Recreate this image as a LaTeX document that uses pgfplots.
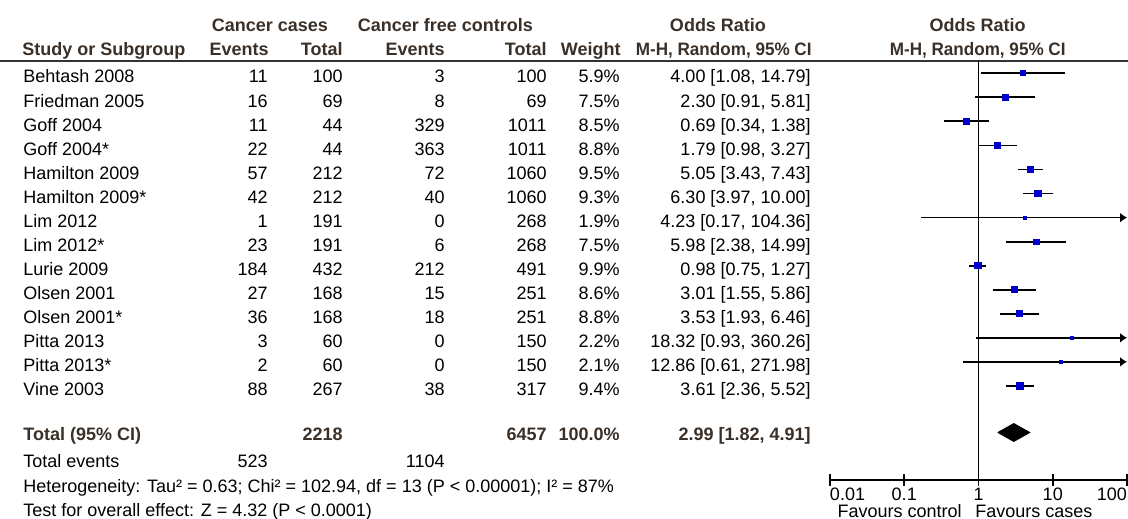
\documentclass[border=0pt]{standalone}
\usepackage{fontspec}
\setmainfont{Liberation Sans}
\usepackage{pgfplots}
\usepackage{pgfplotstable}
\pgfplotsset{compat=1.18}
\usetikzlibrary{arrows.meta}
\definecolor{hdr}{RGB}{58,48,40}
\definecolor{sqblue}{RGB}{0,0,205}

\pgfplotstableread{
or    w    y
4.00  5.9  -73.3
2.30  7.5  -97.35
0.69  8.5  -121.4
1.79  8.8  -145.45
5.05  9.5  -169.5
6.30  9.3  -193.55
4.23  1.9  -217.6
5.98  7.5  -241.65
0.98  9.9  -265.7
3.01  8.6  -289.75
3.53  8.8  -313.8
18.32 2.2  -337.85
12.86 2.1  -361.9
3.61  9.4  -385.95
}\squares

\newcommand{\studyrow}[8]{%
 \pgfmathsetmacro{\yb}{83+24.05*#1}%
 \node[anchor=base west] at (23,\yb) {#2};%
 \node[anchor=base east] at (268,\yb) {#3};%
 \node[anchor=base east] at (343,\yb) {#4};%
 \node[anchor=base east] at (445,\yb) {#5};%
 \node[anchor=base east] at (547,\yb) {#6};%
 \node[anchor=base east] at (620,\yb) {#7};%
 \node[anchor=base east] at (811,\yb) {#8};%
}

\begin{document}
\begin{tikzpicture}[font=\fontsize{9}{11}\selectfont]
\begin{scope}[x=0.5pt,y=-0.5pt,every node/.style={inner sep=0pt}]
\path[use as bounding box] (0,0) rectangle (1128,519);
% header
\begin{scope}[font=\fontsize{9}{11}\selectfont\bfseries, text=hdr]
\node[anchor=base] at (270,31.5) {Cancer cases};
\node[anchor=base] at (445.5,31.5) {Cancer free controls};
\node[anchor=base] at (718,31.5) {Odds Ratio};
\node[anchor=base] at (977.7,31.5) {Odds Ratio};
\node[anchor=base west] at (22,56) {Study or Subgroup};
\node[anchor=base east] at (269,56) {Events};
\node[anchor=base east] at (343,56) {Total};
\node[anchor=base east] at (445,56) {Events};
\node[anchor=base east] at (547,56) {Total};
\node[anchor=base east] at (621,56) {Weight};
\node[anchor=base east] at (812,56) {\scalebox{0.95}[1]{M-H, Random, 95\% CI}};
\node[anchor=base] at (977.7,56) {\scalebox{0.95}[1]{M-H, Random, 95\% CI}};
\end{scope}
\draw[black!80, line width=1pt] (0,61) -- (1128,61);
% rows
\studyrow{0}{Behtash 2008}{11}{100}{3}{100}{5.9\%}{4.00 [1.08, 14.79]}
\studyrow{1}{Friedman 2005}{16}{69}{8}{69}{7.5\%}{2.30 [0.91, 5.81]}
\studyrow{2}{Goff 2004}{11}{44}{329}{1011}{8.5\%}{0.69 [0.34, 1.38]}
\studyrow{3}{Goff 2004*}{22}{44}{363}{1011}{8.8\%}{1.79 [0.98, 3.27]}
\studyrow{4}{Hamilton 2009}{57}{212}{72}{1060}{9.5\%}{5.05 [3.43, 7.43]}
\studyrow{5}{Hamilton 2009*}{42}{212}{40}{1060}{9.3\%}{6.30 [3.97, 10.00]}
\studyrow{6}{Lim 2012}{1}{191}{0}{268}{1.9\%}{4.23 [0.17, 104.36]}
\studyrow{7}{Lim 2012*}{23}{191}{6}{268}{7.5\%}{5.98 [2.38, 14.99]}
\studyrow{8}{Lurie 2009}{184}{432}{212}{491}{9.9\%}{0.98 [0.75, 1.27]}
\studyrow{9}{Olsen 2001}{27}{168}{15}{251}{8.6\%}{3.01 [1.55, 5.86]}
\studyrow{10}{Olsen 2001*}{36}{168}{18}{251}{8.8\%}{3.53 [1.93, 6.46]}
\studyrow{11}{Pitta 2013}{3}{60}{0}{150}{2.2\%}{18.32 [0.93, 360.26]}
\studyrow{12}{Pitta 2013*}{2}{60}{0}{150}{2.1\%}{12.86 [0.61, 271.98]}
\studyrow{13}{Vine 2003}{88}{267}{38}{317}{9.4\%}{3.61 [2.36, 5.52]}
% totals
\begin{scope}[font=\fontsize{9}{11}\selectfont\bfseries, text=hdr]
\node[anchor=base west] at (23,440.5) {Total (95\% CI)};
\node[anchor=base east] at (343,440.5) {2218};
\node[anchor=base east] at (547,440.5) {6457};
\node[anchor=base east] at (620,440.5) {100.0\%};
\node[anchor=base east] at (811,440.5) {2.99 [1.82, 4.91]};
\end{scope}
\node[anchor=base west] at (23,468) {Total events};
\node[anchor=base east] at (268,468) {523};
\node[anchor=base east] at (445,468) {1104};
\node[anchor=base west] at (23,493) {Heterogeneity: Tau² = 0.63; Chi² = 102.94, df = 13 (P < 0.00001); I² = 87\%};
\node[anchor=base west] at (23,516.5) {Test for overall effect: Z = 4.32 (P < 0.0001)};
\node[anchor=base east] at (962,518) {Favours control};
\node[anchor=base west] at (975,518) {Favours cases};
\end{scope}

\begin{axis}[
  at={(415pt,-240pt)}, anchor=south west,
  scale only axis, width=148.5pt, height=209.5pt,
  xmode=log, xmin=0.01, xmax=100,
  ymin=-480, ymax=-61,
  axis x line*=bottom, axis y line=none,
  xtick={0.01,0.1,1,10,100},
  xticklabels={\rlap{0.01},0.1,1,10,\llap{100}},
  xminorticks=false,
  tick align=center,
  major tick length=6pt,
  tick style={black, line width=0.8pt},
  axis line style={black, line width=0.8pt},
  xticklabel style={font=\fontsize{9}{11}\selectfont, inner sep=0pt, yshift=-1pt},
  clip=false,
]
\addplot[black, line width=0.8pt] coordinates {(1,-61) (1,-480)};
\addplot[black, line width=0.9pt] coordinates {(1.08,-73.3) (14.79,-73.3)};
\addplot[black, line width=0.9pt] coordinates {(0.91,-97.35) (5.81,-97.35)};
\addplot[black, line width=0.9pt] coordinates {(0.34,-121.4) (1.38,-121.4)};
\addplot[black, line width=0.9pt] coordinates {(0.98,-145.45) (3.27,-145.45)};
\addplot[black, line width=0.9pt] coordinates {(3.43,-169.5) (7.43,-169.5)};
\addplot[black, line width=0.9pt] coordinates {(3.97,-193.55) (10.00,-193.55)};
\addplot[black, line width=0.9pt, -{Latex[length=3.5pt,width=5pt]}] coordinates {(0.17,-217.6) (100,-217.6)};
\addplot[black, line width=0.9pt] coordinates {(2.38,-241.65) (14.99,-241.65)};
\addplot[black, line width=0.9pt] coordinates {(0.75,-265.7) (1.27,-265.7)};
\addplot[black, line width=0.9pt] coordinates {(1.55,-289.75) (5.86,-289.75)};
\addplot[black, line width=0.9pt] coordinates {(1.93,-313.8) (6.46,-313.8)};
\addplot[black, line width=0.9pt, -{Latex[length=3.5pt,width=5pt]}] coordinates {(0.93,-337.85) (100,-337.85)};
\addplot[black, line width=0.9pt, -{Latex[length=3.5pt,width=5pt]}] coordinates {(0.61,-361.9) (100,-361.9)};
\addplot[black, line width=0.9pt] coordinates {(2.36,-385.95) (5.52,-385.95)};
\addplot[scatter, only marks, mark=square*, point meta=\thisrow{w},
  scatter/use mapped color={draw=sqblue, fill=sqblue},
  visualization depends on={0.5*sqrt(\thisrow{w}) \as \ms},
  scatter/@pre marker code/.append style={/tikz/mark size=\ms pt}]
  table[x=or, y=y] {\squares};
\addplot[fill=black, draw=black] coordinates {(1.82,-432.5) (2.99,-423.5) (4.91,-432.5) (2.99,-441.5) (1.82,-432.5)};
\end{axis}
\end{tikzpicture}
\end{document}
